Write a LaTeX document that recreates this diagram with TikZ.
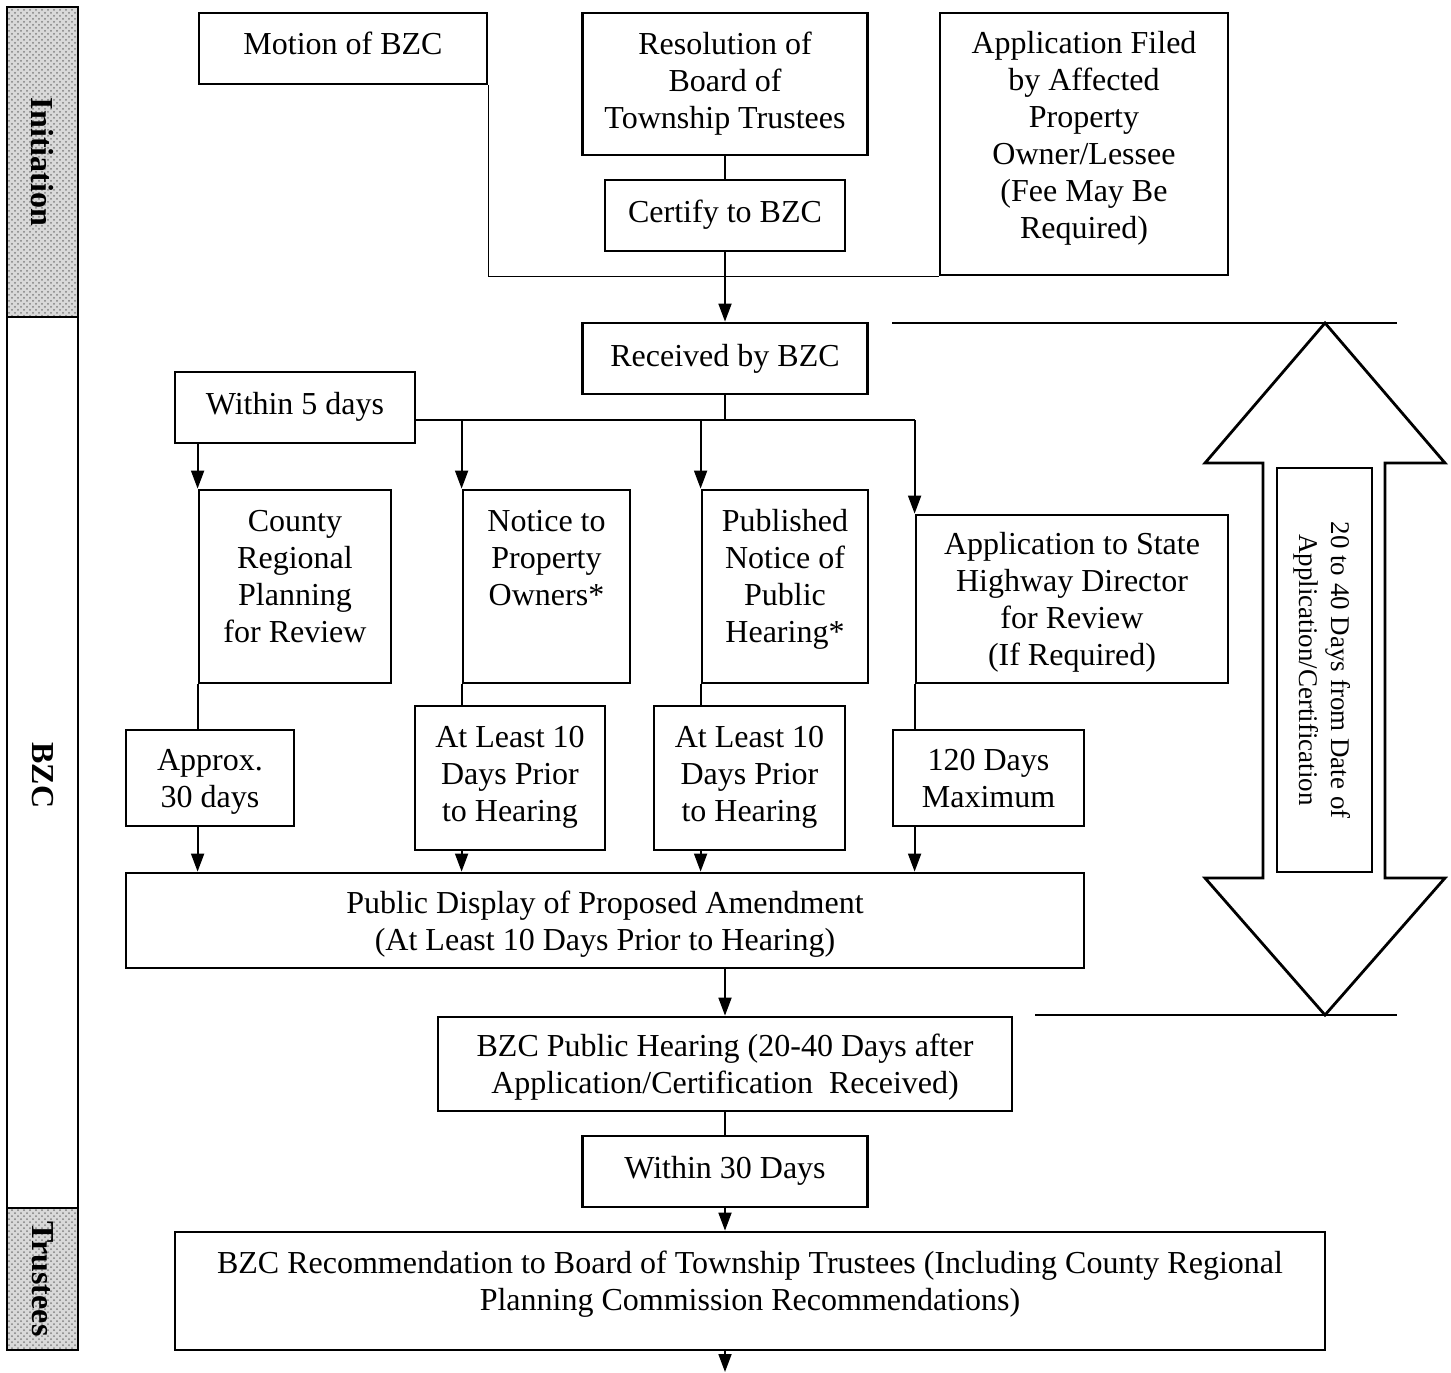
\documentclass[tikz,border=0pt]{standalone}
\usepackage{fontspec}
\setmainfont{Liberation Serif}
\usetikzlibrary{arrows.meta,patterns}
\tikzset{
    box/.style={
           rectangle,
           draw=black, line width=1.4pt,
           inner sep=2pt,
           align=center,
           font=\fontsize{16pt}{18.5pt}\selectfont,
           execute at begin node=\strut,
           text depth=0pt,
           },
    band/.style={
           rectangle,
           draw=black, line width=1.4pt,
           rotate=-90,
           minimum height=35.5pt,
           inner sep=0pt,
           font=\fontsize{16pt}{18pt}\selectfont\bfseries,
           },
    grain/.style={
           preaction={fill=gray!30},
           pattern=crosshatch dots,
           pattern color=black!50,
           },
    link/.style={line width=0.9pt},
}

\begin{document}
\begin{tikzpicture}[x=0.5pt, y=-0.5pt, >={Triangle[length=9pt,width=6.5pt]}]
    \useasboundingbox (0,0) rectangle (1451,1372);

    % phases along the left side
    \node[band, grain, minimum width=155pt] (initband) at (42.5,162) {Initiation};
    \node[band, minimum width=445.5pt] (bzcband) at (42.5,762.5) {\hspace*{13pt}BZC};
    \node[band, grain, minimum width=71pt] (trustband) at (42.5,1279) {Trustees};

    % Initiation: three ways to start
    \node[box,    	% layout (defined above)
    text depth=6.5pt,	% text sits a little high
    minimum width=144pt, minimum height=35.5pt] (motion) at (343,48.5)
    {Motion of BZC};

    \node[box, text depth=4pt,
    minimum width=142.5pt, minimum height=71pt] (resol) at (725,84)
    {Resolution of\\Board of\\Township Trustees};

    \node[box, text depth=5.5pt,
    minimum width=120pt, minimum height=35.5pt] (certify) at (725,215.5)
    {Certify to BZC};

    \node[box, text depth=9pt,
    minimum width=144pt, minimum height=131pt] (appl) at (1084,144)
    {Application Filed\\by Affected\\Property\\Owner/Lessee\\(Fee May Be\\Required)};

    % BZC
    \node[box, text depth=4.5pt,
    minimum width=142.5pt, minimum height=35.5pt] (received) at (725,358.5)
    {Received by BZC};

    \node[box, text depth=5.5pt,
    minimum width=120pt, minimum height=35.5pt] (within5) at (295,407.5)
    {Within 5 days};

    \node[box, text depth=10.5pt,
    minimum width=96pt, minimum height=96.5pt] (county) at (295,586.5)
    {County\\Regional\\Planning\\for Review};

    \node[box, text depth=10.5pt,
    minimum width=83.5pt, minimum height=96.5pt] (notice) at (546.5,586.5)
    {Notice to\\Property\\Owners*\\\mbox{}};

    \node[box, text depth=10.5pt,
    minimum width=83pt, minimum height=96.5pt] (published) at (785,586.5)
    {Published\\Notice of\\Public\\Hearing*};

    \node[box,
    minimum width=156pt, minimum height=84pt] (state) at (1072,599)
    {Application to State\\Highway Director\\for Review\\(If Required)};

    \node[box,
    minimum width=84pt, minimum height=48pt] (approx) at (210,778)
    {Approx.\\30 days};

    \node[box, text depth=4.5pt,
    minimum width=95pt, minimum height=72pt] (least1) at (510,778)
    {At Least 10\\Days Prior\\to Hearing};

    \node[box, text depth=4.5pt,
    minimum width=95.5pt, minimum height=72pt] (least2) at (749.5,778)
    {At Least 10\\Days Prior\\to Hearing};

    \node[box,
    minimum width=95.5pt, minimum height=48pt] (maxdays) at (988.5,778)
    {120 Days\\Maximum};

    \node[box,
    minimum width=479pt, minimum height=47.5pt] (display) at (605,920.5)
    {Public Display of Proposed Amendment\\(At Least 10 Days Prior to Hearing)};

    \node[box,
    minimum width=287pt, minimum height=47pt] (hearing) at (725,1064)
    {BZC Public Hearing (20-40 Days after\\Application/Certification\ \ Received)};

    \node[box, text depth=5.5pt,
    minimum width=142.5pt, minimum height=35.5pt] (within30) at (725,1171.5)
    {Within 30 Days};

    % Trustees
    \node[box, text depth=10.5pt,
    minimum width=575pt, minimum height=59pt] (recommend) at (750,1291)
    {BZC Recommendation to Board of Township Trustees (Including County Regional\\Planning Commission Recommendations)};

    \coordinate (next) at (725,1372);

    % time span arrow on the right
    \draw[line width=1.4pt] (1325,323) -- (1445,463) -- (1385,463) -- (1385,878)
        -- (1445,878) -- (1325,1015) -- (1205,878) -- (1263,878)
        -- (1263,463) -- (1205,463) -- cycle;
    \draw[link] (892,323) -- (1397,323);
    \draw[link] (1035,1015) -- (1397,1015);
    \node[box, rotate=-90,
    minimum width=202pt, minimum height=47.5pt,
    font=\fontsize{13.5pt}{16pt}\selectfont] (spannote) at (1324.5,670)
    {20 to 40 Days from Date of\\Application/Certification};

    % draw the connectors
    \coordinate (merge) at (motion.south east |- appl.south west);
    \draw[link] (motion.south east) -- (merge) -- (appl.south west);
    \path[link]
        (resol.south)   edge (certify.north)
        (certify.south) edge[->] (received.north);

    \coordinate (split) at (725,420);
    \draw[link] (received.south) -- (split);
    \draw[link] (within5.east |- split) -- (split -| state.north west);
    \path[link, ->]
        (within5.south -| county.north west) edge (county.north west)
        (split -| notice.north west)         edge (notice.north west)
        (split -| published.north west)      edge (published.north west)
        (split -| state.north west)          edge (state.north west);

    \path[link]
        (county.south west)    edge (approx.north -| county.south west)
        (notice.south west)    edge (least1.north -| notice.south west)
        (published.south west) edge (least2.north -| published.south west)
        (state.south west)     edge (maxdays.north -| state.south west);
    \path[link, ->]
        (approx.south -| county.south west)     edge (display.north -| county.south west)
        (least1.south -| notice.south west)     edge (display.north -| notice.south west)
        (least2.south -| published.south west)  edge (display.north -| published.south west)
        (maxdays.south -| state.south west)     edge (display.north -| state.south west);

    \path[link, ->]
        (display.south -| hearing.north) edge (hearing.north)
        (within30.south) edge (recommend.north -| within30.south)
        (recommend.south -| within30.south) edge (next);
    \draw[link] (hearing.south) -- (within30.north);
\end{tikzpicture}
\end{document}
